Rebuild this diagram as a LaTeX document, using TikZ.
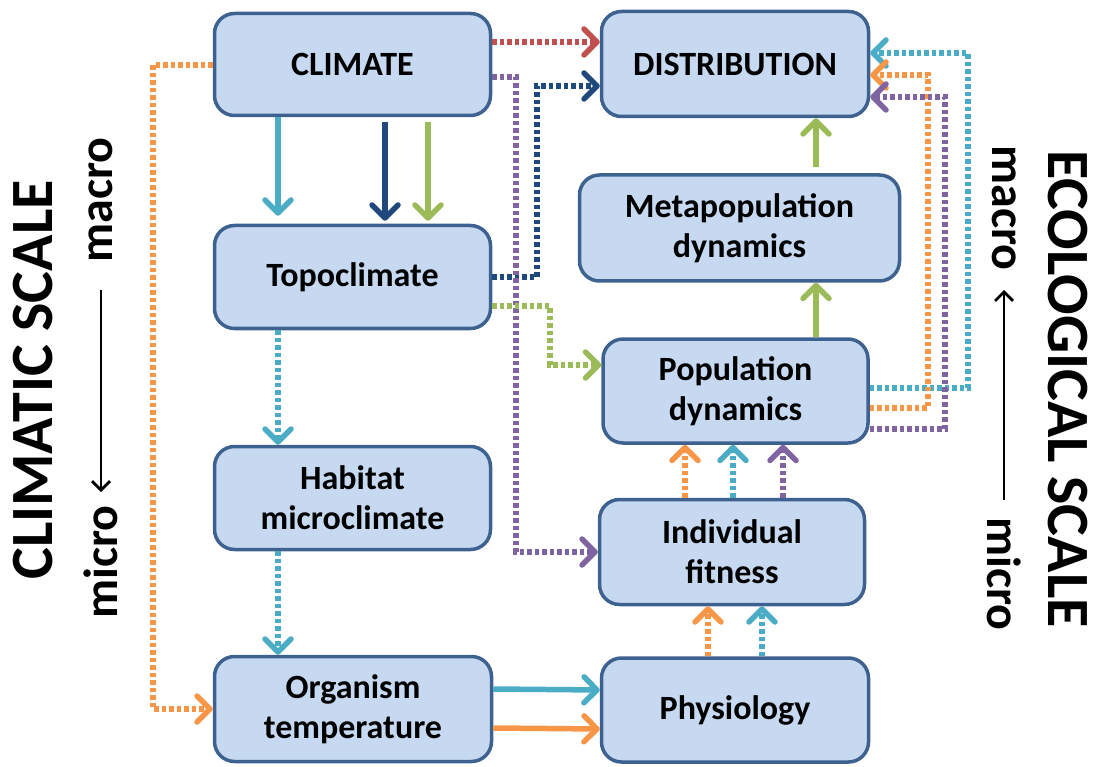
\documentclass[tikz,border=0pt]{standalone}
\usepackage{fontspec}
\setmainfont{Carlito}
\usetikzlibrary{arrows.meta}
\definecolor{boxfill}{HTML}{C6D9F1}
\definecolor{boxline}{HTML}{3E6290}
\definecolor{cred}{HTML}{C0504D}
\definecolor{cdblue}{HTML}{1F497D}
\definecolor{cpurple}{HTML}{8064A2}
\definecolor{cgreen}{HTML}{9BBB59}
\definecolor{ccyan}{HTML}{4BACC6}
\definecolor{corange}{HTML}{F79646}
\tikzset{
  box/.style={draw=boxline, fill=boxfill, line width=3.5pt, rounded corners=20pt,
    align=center, inner sep=0pt, font=\bfseries\fontsize{34}{40}\selectfont},
  tipv/.style={-{Straight Barb[length=13pt,width=26pt,line cap=round,line join=round]}},
  solidarrow/.style={tipv, line width=5.5pt},
  dotarrow/.style={tipv, line width=5.5pt, dash pattern=on 4.5pt off 3pt},
  scalelbl/.style={font=\bfseries\fontsize{60}{66}\selectfont, inner sep=0pt},
  subl/.style={font=\bfseries\fontsize{48}{52}\selectfont, inner sep=0pt},
}
\begin{document}
\begin{tikzpicture}[x=1pt,y=-1pt]
\useasboundingbox (0,0) rectangle (1103,767);
% boxes
\node[box, minimum width=276pt, minimum height=102pt] (climate) at (352.5,64.5) {CLIMATE};
\node[box, minimum width=276pt, minimum height=103pt] (topo) at (352.5,277) {Topoclimate};
\node[box, minimum width=276pt, minimum height=103pt] (habitat) at (352.5,498) {Habitat\\microclimate};
\node[box, minimum width=277pt, minimum height=105pt] (organism) at (353,709) {Organism\\temperature};
\node[box, minimum width=267pt, minimum height=105pt] (distribution) at (735,64) {DISTRIBUTION};
\node[box, minimum width=320pt, minimum height=106pt] (metapop) at (739.5,228) {Metapopulation\\dynamics};
\node[box, minimum width=265pt, minimum height=104pt] (popdyn) at (735.5,391) {Population\\dynamics};
\node[box, minimum width=265pt, minimum height=105pt] (fitness) at (732,552) {Individual\\fitness};
\node[box, minimum width=267pt, minimum height=104pt] (physiology) at (735,710) {Physiology};

% climate -> distribution
\draw[dotarrow, cred] (climate.east |- 0,42) -- (distribution.west |- 0,42);
% topoclimate -> distribution
\draw[dotarrow, cdblue] (topo.east |- 0,277) -- (537,277) -- (537,86) -- (distribution.west |- 0,86);
% climate -> individual fitness
\draw[dotarrow, cpurple] (climate.east |- 0,77) -- (516,77) -- (516,552) -- (fitness.west |- 0,552);
% topoclimate -> population dynamics
\draw[dotarrow, cgreen] (topo.east |- 0,306) -- (550,306) -- (550,365) -- (popdyn.west |- 0,365);
% climate -> topoclimate
\draw[solidarrow, ccyan, shorten >=8pt] (climate.south -| 278,0) -- (topo.north -| 278,0);
\draw[solidarrow, cdblue, shorten <=5pt, shorten >=3pt] (climate.south -| 385,0) -- (topo.north -| 385,0);
\draw[solidarrow, cgreen, shorten <=5pt, shorten >=3pt] (climate.south -| 428,0) -- (topo.north -| 428,0);
% vertical cyan dotted chain
\draw[dotarrow, ccyan] (topo.south -| 278,0) -- (habitat.north -| 278,0);
\draw[dotarrow, ccyan] (habitat.south -| 278,0) -- (organism.north -| 278,0);
% climate -> organism temperature
\draw[dotarrow, corange] (climate.west |- 0,65) -- (153,65) -- (153,709) -- (organism.west |- 0,709);
% organism -> physiology
\draw[solidarrow, ccyan] (organism.east |- 0,689) -- (physiology.west |- 0,690);
\draw[solidarrow, corange] (organism.east |- 0,728) -- (physiology.west |- 0,729);
% physiology -> fitness
\draw[dotarrow, corange] (physiology.north -| 708,0) -- (fitness.south -| 708,0);
\draw[dotarrow, ccyan] (physiology.north -| 762,0) -- (fitness.south -| 762,0);
% fitness -> population dynamics
\draw[dotarrow, corange] (fitness.north -| 685,0) -- (popdyn.south -| 685,0);
\draw[dotarrow, ccyan] (fitness.north -| 733,0) -- (popdyn.south -| 733,0);
\draw[dotarrow, cpurple] (fitness.north -| 783,0) -- (popdyn.south -| 783,0);
% population -> metapopulation -> distribution
\draw[solidarrow, cgreen] (popdyn.north -| 816,0) -- (metapop.south -| 816,0);
\draw[solidarrow, cgreen, shorten <=6pt] (metapop.north -| 816,0) -- (distribution.south -| 816,0);
% feedback population -> distribution
\draw[dotarrow, ccyan] (popdyn.east |- 0,388) -- (968,388) -- (968,53) -- (distribution.east |- 0,53);
\draw[dotarrow, corange] (popdyn.east |- 0,408) -- (928,408) -- (928,75) -- (distribution.east |- 0,75);
\draw[dotarrow, cpurple] (popdyn.east |- 0,429) -- (945,429) -- (945,97) -- (distribution.east |- 0,97);

% climatic scale labels
\node[scalelbl, rotate=90] (cscale) at (33,380) {CLIMATIC SCALE};
\node[subl, rotate=90] (cmacro) at (101,200) {macro};
\node[subl, rotate=90] (cmicro) at (101,562) {micro};
\draw[line width=2.8pt, -{Straight Barb[length=9pt,width=18pt]}] (cmacro.west |- 0,290) -- (cmacro.west |- 0,492);
% ecological scale labels
\node[scalelbl, rotate=-90] (escale) at (1068,389) {ECOLOGICAL SCALE};
\node[subl, rotate=-90] (emacro) at (1004,208) {macro};
\node[subl, rotate=-90] (emicro) at (1004,574) {micro};
\draw[line width=2.8pt, -{Straight Barb[length=9pt,width=18pt]}] (emacro.east |- 0,500) -- (emacro.east |- 0,290);
\end{tikzpicture}
\end{document}
